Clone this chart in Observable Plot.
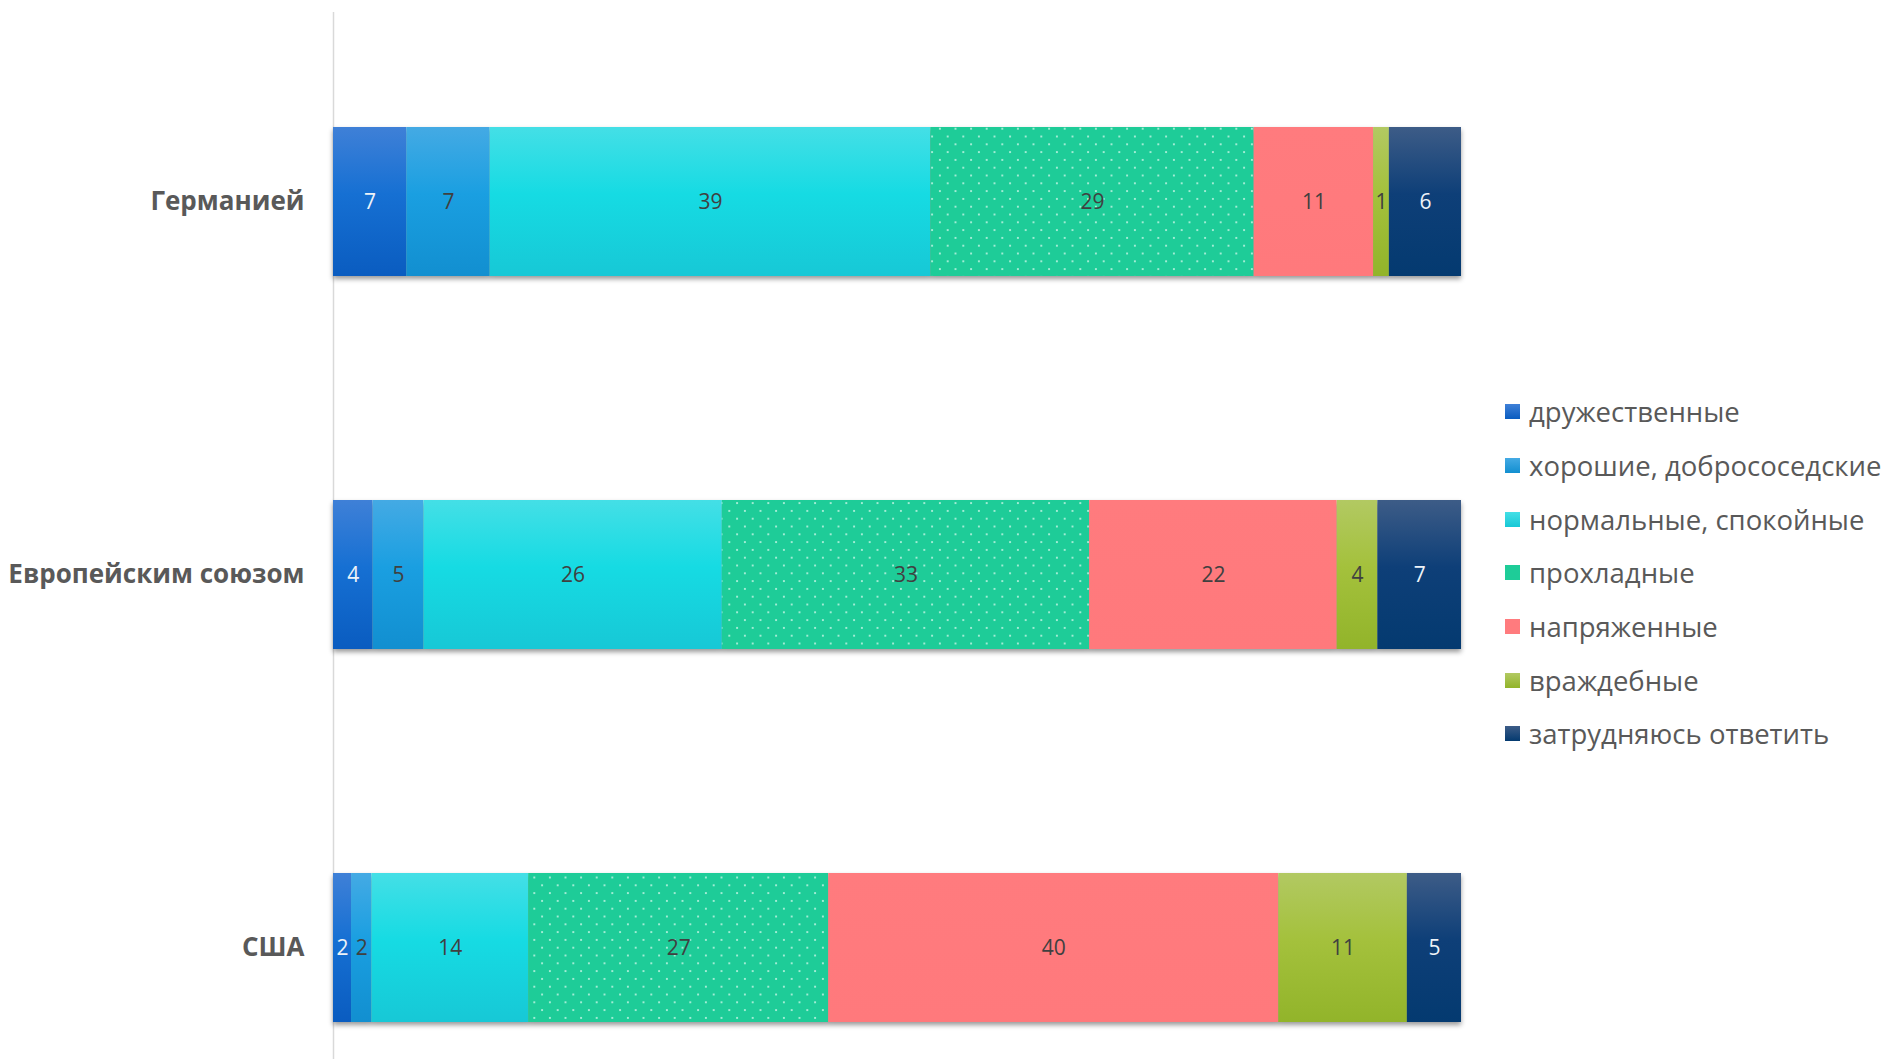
<!DOCTYPE html>
<html>
<head>
<meta charset="utf-8">
<script src="https://cdn.jsdelivr.net/npm/d3@7"></script>
<script src="https://cdn.jsdelivr.net/npm/@observablehq/plot@0.6"></script>
<style>
  html, body { margin: 0; padding: 0; background: #fff; }
  #wrap { position: relative; width: 1885px; height: 1059px; overflow: hidden; font-family: "Open Sans", sans-serif; }
  #legend { position: absolute; left: 1505px; top: 385px; color: #595959; font-size: 27.5px; }
  #legend .item { display: flex; align-items: center; height: 53.7px; white-space: nowrap; }
  #legend .sw { width: 15px; height: 15px; margin-right: 9px; flex: none; }
</style>
</head>
<body>
<svg width="0" height="0" style="position:absolute">
  <defs>
    <linearGradient id="g0" x1="0" y1="0" x2="0" y2="1">
      <stop offset="0" stop-color="#3f80d7"/><stop offset="0.45" stop-color="#1670d3"/><stop offset="1" stop-color="#0a5cc0"/>
    </linearGradient>
    <linearGradient id="g1" x1="0" y1="0" x2="0" y2="1">
      <stop offset="0" stop-color="#44aae4"/><stop offset="0.45" stop-color="#1a9fe1"/><stop offset="1" stop-color="#128fd0"/>
    </linearGradient>
    <linearGradient id="g2" x1="0" y1="0" x2="0" y2="1">
      <stop offset="0" stop-color="#44dfe6"/><stop offset="0.45" stop-color="#16dbe3"/><stop offset="1" stop-color="#17c8d6"/>
    </linearGradient>
    <pattern id="g3" patternUnits="userSpaceOnUse" width="15.6" height="15.6">
      <rect width="15.6" height="15.6" fill="#1ecc98"/>
      <rect x="3" y="3" width="1.8" height="1.8" fill="#b8f2df"/>
      <rect x="10.8" y="10.8" width="1.8" height="1.8" fill="#b8f2df"/>
    </pattern>
    <linearGradient id="g4" x1="0" y1="0" x2="0" y2="1">
      <stop offset="0" stop-color="#ff7b7e"/><stop offset="1" stop-color="#ff797c"/>
    </linearGradient>
    <linearGradient id="g5" x1="0" y1="0" x2="0" y2="1">
      <stop offset="0" stop-color="#b2c962"/><stop offset="0.45" stop-color="#a4c13c"/><stop offset="1" stop-color="#92b42a"/>
    </linearGradient>
    <linearGradient id="g6" x1="0" y1="0" x2="0" y2="1">
      <stop offset="0" stop-color="#3d5c87"/><stop offset="0.45" stop-color="#0e3f78"/><stop offset="1" stop-color="#043a70"/>
    </linearGradient>
  </defs>
</svg>
<div id="wrap"><div id="chart"></div><div id="legend"></div></div>
<script>
const categories = ["Германией", "Европейским союзом", "США"];
const series = ["дружественные", "хорошие, добрососедские", "нормальные, спокойные", "прохладные", "напряженные", "враждебные", "затрудняюсь ответить"];
// shares (%); labels show them rounded
const germanyValues = [6.5, 7.4, 39.1, 28.7, 10.6, 1.4, 6.4];
const euValues = [3.5, 4.5, 26.4, 32.5, 21.9, 3.6, 7.4];
const usaValues = [1.6, 1.8, 13.9, 26.6, 39.9, 11.4, 4.8];
const fills = ["url(#g0)", "url(#g1)", "url(#g2)", "url(#g3)", "url(#g4)", "url(#g5)", "url(#g6)"];
const swatchColors = ["linear-gradient(#3f80d7,#0a5cc0)", "linear-gradient(#44aae4,#128fd0)", "linear-gradient(#44dfe6,#17c8d6)", "#1ecc98", "#ff7b7e", "linear-gradient(#b2c962,#92b42a)", "linear-gradient(#3d5c87,#043a70)"];
const whiteLabelSeries = ["дружественные", "затрудняюсь ответить"];

const valuesByCategory = [germanyValues, euValues, usaValues];
const data = [];
categories.forEach((c, i) => series.forEach((s, j) => data.push({category: c, series: s, value: valuesByCategory[i][j]})));

const stackOpts = {x: "value", y: "category", z: "series", offset: "normalize", order: series};
const label = d => String(Math.round(d.value));

const chart = Plot.plot({
  width: 1885,
  height: 1059,
  marginLeft: 333,
  marginRight: 424,
  marginTop: 12,
  marginBottom: 0,
  style: {fontFamily: "Open Sans, sans-serif", background: "transparent"},
  x: {axis: null},
  y: {domain: categories, paddingInner: 0.6, paddingOuter: 0.2, align: 0.755, label: null},
  color: {domain: series, range: fills},
  marks: [
    Plot.ruleX([0], {stroke: "#d9d9d9", strokeWidth: 1.5}),
    Plot.barX(data, Plot.stackX({...stackOpts, fill: "series"})),
    Plot.text(data, Plot.stackX({...stackOpts, text: d => whiteLabelSeries.includes(d.series) ? null : label(d), fill: "#404040", fontSize: 21})),
    Plot.text(data, Plot.stackX({...stackOpts, text: d => whiteLabelSeries.includes(d.series) ? label(d) : null, fill: "#eef3f8", fontSize: 21})),
    Plot.axisY({tickSize: 0, tickPadding: 29, fontSize: 26, fontWeight: "bold", fill: "#595959", label: null})
  ]
});
const barG = chart.querySelector('g[aria-label="bar"]');
if (barG) barG.style.filter = "drop-shadow(0px 3px 2.5px rgba(0,0,0,0.4))";
document.getElementById("chart").appendChild(chart);

const legend = d3.select("#legend");
series.forEach((s, i) => {
  const item = legend.append("div").attr("class", "item");
  item.append("div").attr("class", "sw").style("background", swatchColors[i]);
  item.append("span").text(s);
});
</script>
</body>
</html>
